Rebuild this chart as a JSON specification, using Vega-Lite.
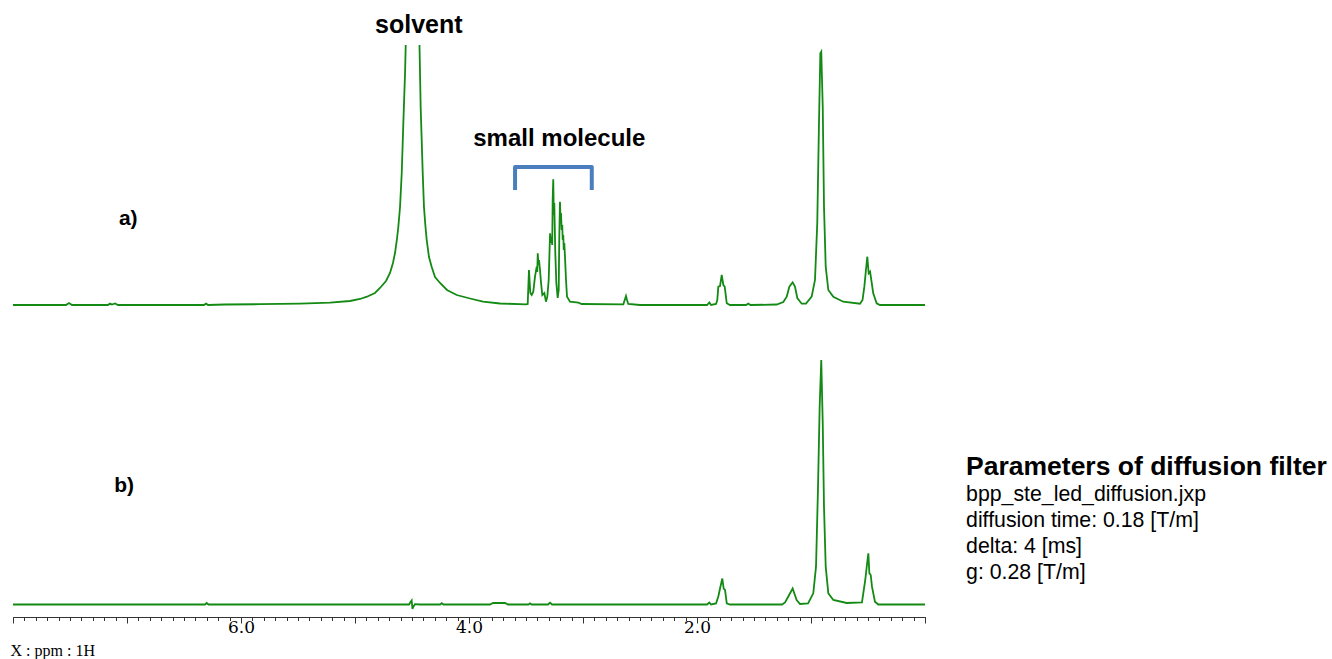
{
  "$schema": "https://vega.github.io/schema/vega-lite/v6.json",
  "width": 912,
  "height": 572,
  "autosize": {"type": "none"},
  "padding": {"left": 13, "top": 45, "right": 407, "bottom": 42},
  "background": "white",
  "config": {"view": {"stroke": null}},
  "datasets": {
    "a": [
      {"ppm":8.000,"i":0},{"ppm":7.535,"i":0},{"ppm":7.509,"i":2},{"ppm":7.482,"i":0},{"ppm":7.167,"i":0},{"ppm":7.149,"i":1.5},{"ppm":7.132,"i":0.5},{"ppm":7.105,"i":1.5},{"ppm":7.079,"i":0},{"ppm":6.684,"i":0},{"ppm":6.325,"i":0},{"ppm":6.307,"i":1.5},{"ppm":6.289,"i":0},{"ppm":6.140,"i":0.5},{"ppm":5.833,"i":0.8},{"ppm":5.482,"i":1.3},{"ppm":5.219,"i":2.3},{"ppm":5.044,"i":4},{"ppm":4.956,"i":6},{"ppm":4.895,"i":8.3},{"ppm":4.825,"i":12},{"ppm":4.781,"i":17},{"ppm":4.728,"i":24},{"ppm":4.693,"i":32},{"ppm":4.667,"i":42},{"ppm":4.649,"i":52},{"ppm":4.632,"i":66},{"ppm":4.620,"i":78},{"ppm":4.605,"i":98},{"ppm":4.590,"i":132},{"ppm":4.576,"i":182},{"ppm":4.561,"i":232},{"ppm":4.553,"i":270},{"ppm":4.494,"i":2500},{"ppm":4.436,"i":270},{"ppm":4.424,"i":198},{"ppm":4.406,"i":132},{"ppm":4.395,"i":98},{"ppm":4.383,"i":80},{"ppm":4.371,"i":65},{"ppm":4.351,"i":48},{"ppm":4.327,"i":38},{"ppm":4.298,"i":28},{"ppm":4.254,"i":22},{"ppm":4.193,"i":15},{"ppm":4.108,"i":10},{"ppm":3.991,"i":6.5},{"ppm":3.877,"i":3.3},{"ppm":3.728,"i":1.5},{"ppm":3.500,"i":0.7},{"ppm":3.485,"i":1},{"ppm":3.474,"i":35},{"ppm":3.462,"i":12},{"ppm":3.450,"i":10},{"ppm":3.436,"i":13.3},{"ppm":3.421,"i":28.3},{"ppm":3.406,"i":38.3},{"ppm":3.401,"i":33},{"ppm":3.397,"i":51.7},{"ppm":3.391,"i":40},{"ppm":3.386,"i":45},{"ppm":3.377,"i":35},{"ppm":3.368,"i":22},{"ppm":3.357,"i":10},{"ppm":3.339,"i":12},{"ppm":3.325,"i":3.3},{"ppm":3.313,"i":8.3},{"ppm":3.301,"i":25},{"ppm":3.289,"i":71.7},{"ppm":3.281,"i":62},{"ppm":3.275,"i":68.3},{"ppm":3.270,"i":60},{"ppm":3.266,"i":105},{"ppm":3.261,"i":125.7},{"ppm":3.256,"i":90},{"ppm":3.252,"i":102},{"ppm":3.243,"i":52},{"ppm":3.234,"i":22},{"ppm":3.222,"i":7},{"ppm":3.213,"i":15},{"ppm":3.208,"i":68.3},{"ppm":3.202,"i":103.3},{"ppm":3.197,"i":85},{"ppm":3.193,"i":92},{"ppm":3.187,"i":75},{"ppm":3.182,"i":80},{"ppm":3.178,"i":65},{"ppm":3.173,"i":70},{"ppm":3.169,"i":55},{"ppm":3.164,"i":62},{"ppm":3.158,"i":48.3},{"ppm":3.149,"i":25},{"ppm":3.140,"i":8.3},{"ppm":3.114,"i":3.3},{"ppm":3.041,"i":2.3},{"ppm":3.011,"i":1},{"ppm":2.646,"i":0.7},{"ppm":2.634,"i":5},{"ppm":2.623,"i":9},{"ppm":2.614,"i":5},{"ppm":2.603,"i":1},{"ppm":2.500,"i":0},{"ppm":1.912,"i":0},{"ppm":1.892,"i":2.5},{"ppm":1.877,"i":0},{"ppm":1.833,"i":1},{"ppm":1.822,"i":5},{"ppm":1.813,"i":18.3},{"ppm":1.798,"i":19},{"ppm":1.783,"i":30},{"ppm":1.769,"i":20},{"ppm":1.757,"i":18.3},{"ppm":1.739,"i":1.7},{"ppm":1.711,"i":0},{"ppm":1.570,"i":0},{"ppm":1.550,"i":1.5},{"ppm":1.531,"i":0},{"ppm":1.301,"i":0.5},{"ppm":1.243,"i":3},{"ppm":1.213,"i":8.3},{"ppm":1.190,"i":18.3},{"ppm":1.161,"i":22.7},{"ppm":1.140,"i":18.3},{"ppm":1.120,"i":7},{"ppm":1.082,"i":1.3},{"ppm":1.044,"i":1.5},{"ppm":0.994,"i":8.3},{"ppm":0.965,"i":25},{"ppm":0.945,"i":82},{"ppm":0.930,"i":182},{"ppm":0.918,"i":251.7},{"ppm":0.910,"i":253.3},{"ppm":0.897,"i":198.3},{"ppm":0.886,"i":98.3},{"ppm":0.871,"i":38.3},{"ppm":0.848,"i":15},{"ppm":0.804,"i":8.3},{"ppm":0.717,"i":3.3},{"ppm":0.570,"i":1.3},{"ppm":0.548,"i":5},{"ppm":0.532,"i":18.3},{"ppm":0.518,"i":35},{"ppm":0.506,"i":48.3},{"ppm":0.494,"i":31.7},{"ppm":0.482,"i":33.3},{"ppm":0.471,"i":25},{"ppm":0.454,"i":11.7},{"ppm":0.424,"i":1.7},{"ppm":0.395,"i":0},{"ppm":0.000,"i":0}
    ],
    "b": [
      {"ppm":8.000,"i":0},{"ppm":6.316,"i":0},{"ppm":6.301,"i":1.5},{"ppm":6.285,"i":0},{"ppm":4.526,"i":0},{"ppm":4.513,"i":2.5},{"ppm":4.503,"i":4},{"ppm":4.496,"i":-4.5},{"ppm":4.487,"i":-2},{"ppm":4.474,"i":0.3},{"ppm":4.430,"i":0},{"ppm":4.254,"i":0},{"ppm":4.239,"i":1.3},{"ppm":4.224,"i":0},{"ppm":3.816,"i":0},{"ppm":3.789,"i":1.5},{"ppm":3.684,"i":1.5},{"ppm":3.658,"i":0},{"ppm":3.478,"i":0},{"ppm":3.465,"i":1.2},{"ppm":3.452,"i":0},{"ppm":3.307,"i":0},{"ppm":3.289,"i":1.8},{"ppm":3.272,"i":0},{"ppm":1.912,"i":0},{"ppm":1.892,"i":2},{"ppm":1.877,"i":0},{"ppm":1.833,"i":1},{"ppm":1.813,"i":8},{"ppm":1.798,"i":16},{"ppm":1.778,"i":26},{"ppm":1.766,"i":16},{"ppm":1.754,"i":14.5},{"ppm":1.739,"i":1.2},{"ppm":1.711,"i":0},{"ppm":1.254,"i":0},{"ppm":1.228,"i":2},{"ppm":1.199,"i":8},{"ppm":1.161,"i":16},{"ppm":1.126,"i":4.5},{"ppm":1.096,"i":0.5},{"ppm":1.026,"i":1},{"ppm":0.980,"i":11.2},{"ppm":0.956,"i":37.8},{"ppm":0.939,"i":114.5},{"ppm":0.924,"i":197.8},{"ppm":0.910,"i":244.5},{"ppm":0.897,"i":181.2},{"ppm":0.886,"i":97.8},{"ppm":0.871,"i":37.8},{"ppm":0.848,"i":11.2},{"ppm":0.804,"i":4.5},{"ppm":0.687,"i":1.5},{"ppm":0.553,"i":2},{"ppm":0.524,"i":24.5},{"ppm":0.511,"i":37.8},{"ppm":0.497,"i":51.2},{"ppm":0.488,"i":31.2},{"ppm":0.476,"i":29.5},{"ppm":0.465,"i":17.8},{"ppm":0.439,"i":2.8},{"ppm":0.410,"i":0},{"ppm":0.000,"i":0}
    ],
    "bracket": [
      {"step":1,"ppm":3.596,"level":115},{"step":2,"ppm":3.596,"level":138},{"step":3,"ppm":2.923,"level":138},{"step":4,"ppm":2.923,"level":115}
    ]
  },
  "layer": [
    {
      "data": {"name": "b"},
      "mark": {"type": "line", "color": "#138a13", "strokeWidth": 1.8, "clip": true},
      "encoding": {
        "x": {"field": "ppm", "type": "quantitative",
          "scale": {"domain": [0, 8], "reverse": true, "nice": false, "zero": false},
          "axis": {
            "orient": "bottom",
            "values": [0, 1, 2, 3, 4, 5, 6, 7, 8],
            "tickSize": 6,
            "domainColor": "#333", "tickColor": "#333", "grid": false,
            "labelFont": "DejaVu Serif", "labelFontSize": 17, "labelColor": "#000", "labelPadding": -4,
            "labelExpr": "(datum.value == 2 || datum.value == 4 || datum.value == 6) ? format(datum.value, '.1f') : ''",
            "labelFlush": false, "labelOverlap": false,
            "title": null
          }},
        "y": {"field": "i", "type": "quantitative", "scale": {"domain": [-12.5, 559.5], "nice": false, "zero": false}, "axis": null}
      }
    },
    {
      "data": {"name": "a"},
      "mark": {"type": "line", "color": "#138a13", "strokeWidth": 1.8, "clip": true},
      "encoding": {
        "x": {"field": "ppm", "type": "quantitative",
          "axis": {
            "orient": "bottom",
            "values": [0,0.1,0.2,0.3,0.4,0.5,0.6,0.7,0.8,0.9,1.1,1.2,1.3,1.4,1.5,1.6,1.7,1.8,1.9,2.1,2.2,2.3,2.4,2.5,2.6,2.7,2.8,2.9,3.1,3.2,3.3,3.4,3.5,3.6,3.7,3.8,3.9,4.1,4.2,4.3,4.4,4.5,4.6,4.7,4.8,4.9,5.1,5.2,5.3,5.4,5.5,5.6,5.7,5.8,5.9,6.1,6.2,6.3,6.4,6.5,6.6,6.7,6.8,6.9,7.1,7.2,7.3,7.4,7.5,7.6,7.7,7.8,7.9],
            "tickSize": 3.5, "labels": false,
            "domainColor": "#333", "tickColor": "#333", "grid": false,
            "title": "X : ppm : 1H", "titleFont": "Liberation Serif", "titleFontSize": 16, "titleFontWeight": "normal", "titleColor": "#000", "titleAnchor": "start", "titleAlign": "left", "titleBaseline": "alphabetic", "titleX": -3, "titleY": 38
          }},
        "y": {"field": "i", "type": "quantitative", "scale": {"domain": [-312, 260], "nice": false, "zero": false}, "axis": null}
      }
    },
    {
      "data": {"name": "bracket"},
      "mark": {"type": "line", "color": "#4a7ebf", "strokeWidth": 4, "strokeJoin": "round", "strokeCap": "butt"},
      "encoding": {
        "x": {"field": "ppm", "type": "quantitative", "axis": null},
        "y": {"field": "level", "type": "quantitative", "scale": {"domain": [-312, 260], "nice": false, "zero": false}, "axis": null},
        "order": {"field": "step"}
      }
    },
    {
      "data": {"values": [{}]},
      "mark": {"type": "text", "text": "solvent", "font": "Liberation Sans", "fontWeight": "bold", "fontSize": 25, "align": "center", "baseline": "alphabetic", "color": "#000"},
      "encoding": {"x": {"datum": 4.44, "type": "quantitative", "axis": null}, "y": {"datum": 272, "type": "quantitative", "scale": {"domain": [-312, 260], "nice": false, "zero": false}, "axis": null}}
    },
    {
      "data": {"values": [{}]},
      "mark": {"type": "text", "text": "small molecule", "font": "Liberation Sans", "fontWeight": "bold", "fontSize": 24, "align": "center", "baseline": "alphabetic", "color": "#000"},
      "encoding": {"x": {"datum": 3.208, "type": "quantitative", "axis": null}, "y": {"datum": 159, "type": "quantitative", "scale": {"domain": [-312, 260], "nice": false, "zero": false}, "axis": null}}
    },
    {
      "data": {"values": [{}]},
      "mark": {"type": "text", "text": "a)", "font": "Liberation Sans", "fontWeight": "bold", "fontSize": 21, "align": "center", "baseline": "alphabetic", "color": "#000"},
      "encoding": {"x": {"datum": 6.989, "type": "quantitative", "axis": null}, "y": {"datum": 80, "type": "quantitative", "scale": {"domain": [-312, 260], "nice": false, "zero": false}, "axis": null}}
    },
    {
      "data": {"values": [{}]},
      "mark": {"type": "text", "text": "b)", "font": "Liberation Sans", "fontWeight": "bold", "fontSize": 21, "align": "center", "baseline": "alphabetic", "color": "#000"},
      "encoding": {"x": {"datum": 7.026, "type": "quantitative", "axis": null}, "y": {"datum": -186.7, "type": "quantitative", "scale": {"domain": [-312, 260], "nice": false, "zero": false}, "axis": null}}
    },
    {
      "data": {"values": [{}]},
      "mark": {"type": "text", "text": "Parameters of diffusion filter", "font": "Liberation Sans", "fontWeight": "bold", "fontSize": 26.5, "align": "left", "baseline": "alphabetic", "color": "#000"},
      "encoding": {"x": {"datum": -0.36, "type": "quantitative", "axis": null}, "y": {"datum": -170, "type": "quantitative", "scale": {"domain": [-312, 260], "nice": false, "zero": false}, "axis": null}}
    },
    {
      "data": {"values": [{}]},
      "mark": {"type": "text", "text": ["bpp_ste_led_diffusion.jxp", "diffusion time: 0.18 [T/m]", "delta: 4 [ms]", "g: 0.28 [T/m]"], "lineHeight": 26, "font": "Liberation Sans", "fontSize": 21.3, "align": "left", "baseline": "alphabetic", "color": "#000"},
      "encoding": {"x": {"datum": -0.36, "type": "quantitative", "axis": null}, "y": {"datum": -196, "type": "quantitative", "scale": {"domain": [-312, 260], "nice": false, "zero": false}, "axis": null}}
    }
  ],
  "resolve": {"scale": {"y": "independent"}, "axis": {"x": "independent"}}
}
